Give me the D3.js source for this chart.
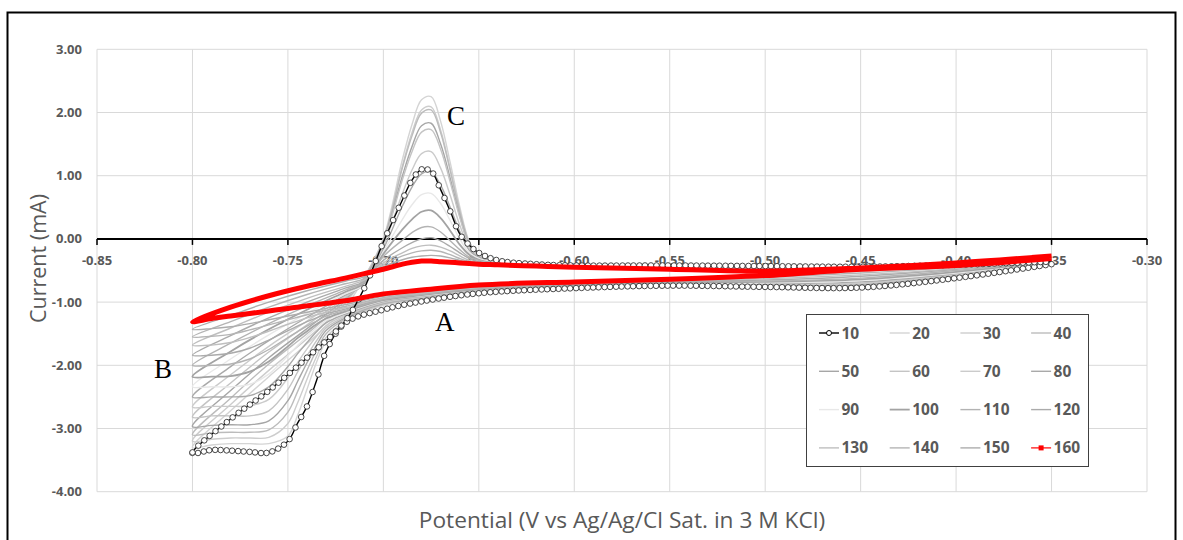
<!DOCTYPE html>
<html>
<head>
<meta charset="utf-8">
<script src="https://cdn.jsdelivr.net/npm/d3@7"></script>
<style>
  body { margin: 0; background: #fff; }
  svg text { font-family: "Open Sans", sans-serif; }
</style>
</head>
<body>
<div id="chart"></div>
<script>
// potential program of one cycle: -0.35 -> -0.80 (forward) and back to -0.35
const potential = [
  -0.35, -0.40, -0.45, -0.50, -0.55, -0.60, -0.65, -0.68, -0.70, -0.72,
  -0.73, -0.735, -0.74, -0.745, -0.75, -0.76, -0.77, -0.78, -0.79, -0.80,
  -0.78, -0.76, -0.74, -0.72, -0.71,
  -0.70, -0.69, -0.685, -0.68, -0.675, -0.67, -0.665, -0.66, -0.655, -0.65, -0.64,
  -0.62, -0.60, -0.55, -0.50, -0.45, -0.40, -0.35
];

// current (mA) per cycle, same order as potential
const i10 = [-0.40, -0.62, -0.77, -0.76, -0.74, -0.78, -0.86, -0.99, -1.12, -1.33, -1.78, -2.24, -2.65, -2.92, -3.20, -3.38, -3.37, -3.35, -3.34, -3.39,
  -2.85, -2.40, -1.88, -1.30, -0.78, -0.05, 0.62, 0.93, 1.10, 1.07, 0.78, 0.44, 0.08, -0.10, -0.22, -0.34, -0.40, -0.42, -0.42, -0.43, -0.44, -0.41, -0.36];
const i20 = [-0.41, -0.61, -0.75, -0.75, -0.74, -0.77, -0.86, -0.97, -1.05, -1.32, -1.62, -1.95, -2.38, -2.80, -3.12, -3.24, -3.24, -3.24, -3.26, -3.30,
  -2.72, -2.18, -1.66, -1.08, -0.62, 0.01, 1.26, 1.81, 2.20, 2.25, 1.86, 1.21, 0.51, -0.04, -0.25, -0.35, -0.41, -0.43, -0.44, -0.45, -0.45, -0.41, -0.35];
const i30 = [-0.41, -0.60, -0.74, -0.74, -0.73, -0.77, -0.85, -0.96, -1.04, -1.30, -1.56, -1.86, -2.22, -2.60, -2.92, -3.14, -3.15, -3.15, -3.17, -3.20,
  -2.62, -2.08, -1.58, -1.02, -0.60, -0.01, 1.16, 1.68, 2.04, 2.09, 1.72, 1.11, 0.46, -0.06, -0.25, -0.35, -0.41, -0.43, -0.44, -0.45, -0.45, -0.41, -0.35];
const i40 = [-0.40, -0.59, -0.73, -0.74, -0.73, -0.76, -0.85, -0.95, -1.03, -1.27, -1.50, -1.76, -2.08, -2.42, -2.74, -3.02, -3.06, -3.06, -3.07, -3.10,
  -2.52, -1.98, -1.50, -0.98, -0.62, -0.02, 1.13, 1.63, 1.99, 2.04, 1.68, 1.08, 0.44, -0.06, -0.25, -0.35, -0.41, -0.43, -0.45, -0.46, -0.45, -0.40, -0.34];
const i50 = [-0.40, -0.58, -0.72, -0.73, -0.72, -0.76, -0.84, -0.94, -1.02, -1.25, -1.45, -1.68, -1.96, -2.26, -2.56, -2.88, -2.94, -2.94, -2.95, -2.97,
  -2.40, -1.88, -1.42, -0.95, -0.64, -0.04, 1.00, 1.46, 1.79, 1.83, 1.50, 0.96, 0.37, -0.09, -0.26, -0.36, -0.42, -0.44, -0.45, -0.46, -0.45, -0.40, -0.34];
const i60 = [-0.39, -0.57, -0.71, -0.72, -0.72, -0.75, -0.83, -0.93, -1.01, -1.23, -1.41, -1.61, -1.85, -2.11, -2.38, -2.72, -2.80, -2.80, -2.80, -2.82,
  -2.28, -1.79, -1.36, -0.93, -0.67, -0.06, 0.94, 1.38, 1.69, 1.73, 1.42, 0.90, 0.34, -0.10, -0.27, -0.36, -0.42, -0.44, -0.45, -0.47, -0.46, -0.40, -0.33];
const i70 = [-0.39, -0.56, -0.70, -0.72, -0.71, -0.75, -0.83, -0.92, -1.00, -1.21, -1.37, -1.54, -1.74, -1.96, -2.20, -2.54, -2.64, -2.65, -2.65, -2.66,
  -2.15, -1.70, -1.30, -0.91, -0.70, -0.11, 0.72, 1.09, 1.35, 1.38, 1.12, 0.69, 0.22, -0.14, -0.28, -0.37, -0.42, -0.44, -0.46, -0.47, -0.46, -0.40, -0.33];
const i80 = [-0.38, -0.55, -0.68, -0.71, -0.71, -0.74, -0.82, -0.91, -0.99, -1.19, -1.33, -1.47, -1.64, -1.82, -2.02, -2.34, -2.48, -2.50, -2.50, -2.50,
  -2.02, -1.61, -1.24, -0.89, -0.72, -0.16, 0.52, 0.82, 1.03, 1.06, 0.85, 0.50, 0.12, -0.18, -0.29, -0.37, -0.42, -0.44, -0.46, -0.47, -0.46, -0.40, -0.32];
const i90 = [-0.37, -0.54, -0.66, -0.70, -0.70, -0.73, -0.81, -0.90, -0.98, -1.17, -1.29, -1.41, -1.54, -1.69, -1.85, -2.14, -2.30, -2.34, -2.34, -2.34,
  -1.90, -1.52, -1.18, -0.87, -0.72, -0.20, 0.31, 0.54, 0.70, 0.72, 0.56, 0.29, 0.00, -0.22, -0.31, -0.38, -0.42, -0.45, -0.46, -0.48, -0.46, -0.39, -0.32];
const i100 = [-0.36, -0.52, -0.64, -0.68, -0.69, -0.73, -0.80, -0.89, -0.97, -1.15, -1.26, -1.35, -1.46, -1.57, -1.70, -1.94, -2.10, -2.17, -2.18, -2.18,
  -1.78, -1.43, -1.12, -0.84, -0.70, -0.24, 0.15, 0.31, 0.43, 0.45, 0.33, 0.13, -0.09, -0.25, -0.33, -0.39, -0.43, -0.45, -0.46, -0.48, -0.46, -0.39, -0.31];
const i110 = [-0.35, -0.50, -0.62, -0.67, -0.68, -0.72, -0.79, -0.88, -0.96, -1.13, -1.22, -1.30, -1.38, -1.47, -1.56, -1.75, -1.90, -1.98, -2.00, -2.00,
  -1.65, -1.34, -1.06, -0.81, -0.68, -0.28, -0.02, 0.10, 0.18, 0.19, 0.11, -0.03, -0.17, -0.29, -0.34, -0.40, -0.43, -0.45, -0.47, -0.48, -0.46, -0.39, -0.31];
const i120 = [-0.34, -0.48, -0.59, -0.65, -0.67, -0.71, -0.78, -0.87, -0.95, -1.11, -1.19, -1.25, -1.31, -1.38, -1.45, -1.60, -1.73, -1.81, -1.84, -1.84,
  -1.53, -1.25, -1.00, -0.78, -0.67, -0.34, -0.14, -0.06, 0.00, 0.02, -0.03, -0.12, -0.22, -0.31, -0.36, -0.41, -0.43, -0.45, -0.47, -0.49, -0.46, -0.39, -0.30];
const i130 = [-0.34, -0.47, -0.57, -0.63, -0.66, -0.70, -0.77, -0.86, -0.94, -1.09, -1.16, -1.20, -1.25, -1.30, -1.35, -1.46, -1.56, -1.64, -1.68, -1.68,
  -1.41, -1.16, -0.94, -0.75, -0.65, -0.38, -0.22, -0.15, -0.11, -0.10, -0.13, -0.19, -0.27, -0.34, -0.38, -0.42, -0.43, -0.45, -0.47, -0.49, -0.46, -0.39, -0.30];
const i140 = [-0.33, -0.45, -0.54, -0.61, -0.66, -0.70, -0.76, -0.85, -0.93, -1.07, -1.13, -1.16, -1.20, -1.24, -1.28, -1.36, -1.44, -1.51, -1.54, -1.55,
  -1.31, -1.08, -0.88, -0.71, -0.63, -0.41, -0.27, -0.22, -0.19, -0.18, -0.20, -0.25, -0.31, -0.36, -0.39, -0.42, -0.43, -0.45, -0.47, -0.49, -0.46, -0.38, -0.29];
const i150 = [-0.32, -0.44, -0.51, -0.60, -0.65, -0.69, -0.75, -0.83, -0.91, -1.04, -1.10, -1.13, -1.16, -1.19, -1.22, -1.28, -1.34, -1.39, -1.42, -1.43,
  -1.21, -1.00, -0.82, -0.67, -0.60, -0.44, -0.33, -0.29, -0.27, -0.26, -0.27, -0.30, -0.34, -0.38, -0.40, -0.42, -0.43, -0.45, -0.48, -0.50, -0.46, -0.38, -0.29];
const i160 = [-0.31, -0.42, -0.48, -0.58, -0.64, -0.68, -0.73, -0.81, -0.87, -0.98, -1.02, -1.04, -1.06, -1.08, -1.10, -1.14, -1.18, -1.22, -1.26, -1.31,
  -1.08, -0.90, -0.75, -0.62, -0.55, -0.48, -0.40, -0.37, -0.35, -0.35, -0.36, -0.37, -0.38, -0.39, -0.40, -0.41, -0.43, -0.45, -0.48, -0.51, -0.46, -0.38, -0.27];

const cycles = [10, 20, 30, 40, 50, 60, 70, 80, 90, 100, 110, 120, 130, 140, 150, 160];
const currents = [i10, i20, i30, i40, i50, i60, i70, i80, i90, i100, i110, i120, i130, i140, i150, i160];
const grays = ["#000", "#d4d4d4", "#cdcdcd", "#bcbcbc", "#a6a6a6", "#c4c4c4", "#cbcbcb", "#a9a9a9",
  "#e8e8e8", "#a3a3a3", "#b3b3b3", "#ababab", "#bfbfbf", "#b5b5b5", "#adadad", "#ff0000"];

const xTicks = [-0.85, -0.80, -0.75, -0.70, -0.65, -0.60, -0.55, -0.50, -0.45, -0.40, -0.35, -0.30];
const yTicks = [3, 2, 1, 0, -1, -2, -3, -4];

const w = 1183;
const h = 540;
const textColor = "#595959";

const x = d3.scaleLinear().domain([-0.85, -0.30]).range([97, 1147]);
const y = d3.scaleLinear().domain([-4, 3]).range([491.7, 49.3]);

// Excel style labels with a plain hyphen
const fmt = d => d.toFixed(2);

const svg = d3.select("#chart").append("svg").attr("width", w).attr("height", h);

svg.append("rect").attr("width", w).attr("height", h).attr("fill", "#fff");
svg.append("rect")
  .attr("x", 7.5).attr("y", 12.5)
  .attr("width", 1168).attr("height", 560)
  .attr("fill", "none").attr("stroke", "#000").attr("stroke-width", 2);

// gridlines
svg.append("g").selectAll("line").data(xTicks).enter().append("line")
  .attr("x1", d => x(d)).attr("x2", d => x(d))
  .attr("y1", y(3)).attr("y2", y(-4))
  .attr("stroke", "#d9d9d9").attr("stroke-width", 1);
svg.append("g").selectAll("line").data(yTicks).enter().append("line")
  .attr("x1", x(-0.85)).attr("x2", x(-0.30))
  .attr("y1", d => y(d)).attr("y2", d => y(d))
  .attr("stroke", "#d9d9d9").attr("stroke-width", 1);

// y tick labels
svg.append("g").selectAll("text").data(yTicks).enter().append("text")
  .attr("x", 82).attr("y", d => y(d)).attr("dy", "0.35em")
  .attr("text-anchor", "end")
  .attr("font-size", 13).attr("font-weight", 700).attr("fill", textColor)
  .text(fmt);

// x tick labels (drawn under the curves)
svg.append("g").selectAll("text").data(xTicks).enter().append("text")
  .attr("x", d => x(d)).attr("y", y(0) + 26)
  .attr("text-anchor", "middle")
  .attr("font-size", 13).attr("font-weight", 700).attr("fill", textColor)
  .text(fmt);

// axis titles
svg.append("text")
  .attr("transform", `translate(46,${(y(3) + y(-4)) / 2 - 12}) rotate(-90)`)
  .attr("text-anchor", "middle")
  .attr("font-size", 21.5).attr("fill", textColor)
  .text("Current (mA)");
svg.append("text")
  .attr("x", 622).attr("y", 528)
  .attr("text-anchor", "middle")
  .attr("font-size", 22.7).attr("fill", textColor)
  .text("Potential (V vs Ag/Ag/Cl Sat. in 3 M KCl)");

// x axis line at 0 mA
const axisG = svg.append("g");
axisG.append("line")
  .attr("x1", x(-0.85)).attr("x2", x(-0.30))
  .attr("y1", y(0)).attr("y2", y(0))
  .attr("stroke", "#000").attr("stroke-width", 2);
axisG.selectAll("line.tick").data(xTicks).enter().append("line")
  .attr("class", "tick")
  .attr("x1", d => x(d)).attr("x2", d => x(d))
  .attr("y1", y(0)).attr("y2", y(0) + 6)
  .attr("stroke", "#000").attr("stroke-width", 1.5);

const line = d3.line()
  .x(d => x(d[0]))
  .y(d => y(d[1]))
  .curve(d3.curveCatmullRom.alpha(0.5));

const series = cycles.map((c, i) => ({
  cycle: c,
  color: grays[i],
  values: potential.map((p, j) => [p, currents[i][j]])
}));

// gray cycles first, then cycle 10, red cycle 160 on top
const order = series.slice(1, 15).concat([series[0], series[15]]);
const curves = svg.append("g");

order.forEach(s => {
  const path = curves.append("path")
    .datum(s.values)
    .attr("d", line)
    .attr("fill", "none")
    .attr("stroke", s.color)
    .attr("stroke-width", s.cycle === 160 ? 5 : s.cycle === 100 ? 1.8 : 1.4)
    .attr("stroke-linejoin", "round");

  if (s.cycle === 10) {
    // open circle markers at equal potential steps along the scan
    const node = path.node();
    const len = node.getTotalLength();
    const step = x(-0.35) - x(-0.353);
    let last = null;
    const pts = [];
    for (let l = 0; l <= len; l += 0.5) {
      const p = node.getPointAtLength(l);
      const k = Math.floor((p.x - x(-0.80)) / step);
      if (k !== last) {
        pts.push(p);
        last = k;
      }
    }
    curves.append("g").selectAll("circle").data(pts).enter().append("circle")
      .attr("cx", d => d.x).attr("cy", d => d.y).attr("r", 2.8)
      .attr("fill", "#fff").attr("stroke", "#333").attr("stroke-width", 0.9);
  }
});

// labels A, B, C
const peakLabels = [["C", 447, 125], ["A", 435, 331], ["B", 154, 378]];
svg.append("g").selectAll("text").data(peakLabels).enter().append("text")
  .attr("x", d => d[1]).attr("y", d => d[2])
  .style("font-family", "'Liberation Serif', 'DejaVu Serif', serif")
  .attr("font-size", 27).attr("fill", "#000")
  .text(d => d[0]);

// legend
const legend = svg.append("g");
legend.append("rect")
  .attr("x", 806.5).attr("y", 314.5).attr("width", 282).attr("height", 152)
  .attr("fill", "#fff").attr("stroke", "#404040").attr("stroke-width", 1);

const item = legend.selectAll("g.item").data(series).enter().append("g")
  .attr("class", "item")
  .attr("transform", (d, i) => `translate(${819 + (i % 4) * 70.7},${333 + Math.floor(i / 4) * 38.3})`);

item.append("line")
  .attr("x1", 0).attr("x2", 20).attr("y1", 0).attr("y2", 0)
  .attr("stroke", d => d.color)
  .attr("stroke-width", d => d.cycle === 160 ? 1.2 : d.cycle === 100 ? 1.8 : 1.4);

item.filter(d => d.cycle === 10).append("circle")
  .attr("cx", 10).attr("cy", 0).attr("r", 2.5)
  .attr("fill", "#fff").attr("stroke", "#000").attr("stroke-width", 1);
item.filter(d => d.cycle === 160).append("rect")
  .attr("x", 7.5).attr("y", -2.5).attr("width", 5).attr("height", 5)
  .attr("fill", "#ff0000");

item.append("text")
  .attr("x", 22.5).attr("y", 0).attr("dy", "0.36em")
  .attr("font-size", 15.5).attr("font-weight", 700).attr("fill", textColor)
  .text(d => d.cycle);
</script>
</body>
</html>
